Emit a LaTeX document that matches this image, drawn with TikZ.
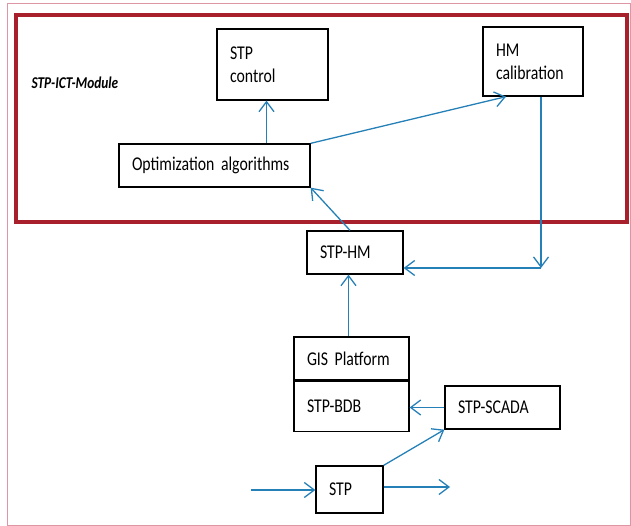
\documentclass[tikz,border=0pt]{standalone}
\usepackage{fontspec}
\setmainfont{Carlito}[FakeStretch=0.81]
\usepackage{tikz}
\usetikzlibrary{arrows.meta,positioning}
\definecolor{linkblue}{RGB}{38,128,184}
\definecolor{modred}{RGB}{168,32,44}
\definecolor{pagepink}{RGB}{222,150,165}
\newcommand{\boxfont}{\fontsize{19.5}{23}\selectfont\spaceskip=2.4pt\relax}

\begin{document}
\begin{tikzpicture}[
  x=1pt, y=-1pt,
  box/.style={draw, line width=1.3pt, fill=white, align=left,
              inner xsep=13pt, inner ysep=2pt, font=\boxfont},
  arrow/.style={-{Straight Barb[length=10pt,width=15pt]}, line width=1.3pt, linkblue},
  node distance=0pt
]
\useasboundingbox (0,0) rectangle (631,526);

% Frames
\draw[pagepink, line width=0.8pt] (7,3) rectangle (630,525);
\draw[modred, line width=4pt] (16,15) rectangle (627,222);
\node[anchor=west, font=\fontsize{16.5}{18}\selectfont\bfseries\itshape] (mod) at (28,83) {STP-ICT-Module};

% Module boxes
\node[box, text width=85pt, minimum height=71pt]  (ctrl) at (272.5,64.5) {STP\\control};
\node[box, text width=74pt, minimum height=69pt]  (cal)  at (533,61.5)   {HM\\calibration};
\node[box, text width=165pt, minimum height=43pt] (opt)  at (214.5,165.5) {Optimization algorithms};

% Lower boxes
\node[box, text width=70pt, minimum height=43pt] (hm)    at (355,252.5)   {STP-HM};
\node[box, text width=89pt, minimum height=43pt] (gis)   at (351.5,358.5) {GIS Platform};
\node[box, text width=89pt, minimum height=50pt, below=of gis] (bdb) {STP-BDB};
\node[box, text width=89pt, minimum height=43pt] (scada) at (502.5,407.5) {STP-SCADA};
\node[box, text width=41pt, minimum height=47pt] (stp)   at (349.5,489.5) {STP};

% Free ends
\coordinate (bend) at (541,268);
\coordinate (in)   at (251,490);
\coordinate (out)  at (450,487);

% Arrows
\draw[arrow] ([xshift=-6pt]ctrl.south |- opt.north) -- ([xshift=-6pt]ctrl.south);
\draw[arrow] (opt.north east) -- ([xshift=-27pt]cal.south);
\draw[arrow] ([xshift=8pt]cal.south) -- (bend);
\draw[arrow] (bend) -- (bend -| hm.east);
\draw[arrow] ([xshift=-5pt]hm.north) -- (opt.south east);
\draw[arrow] ([xshift=-3pt]gis.north) -- ([xshift=-3pt]gis.north |- hm.south);
\draw[arrow] (scada.west) -- (scada.west -| bdb.east);
\draw[arrow] (stp.north east) -- (scada.south west);
\draw[arrow] (in) -- (in -| stp.west);
\draw[arrow] (out -| stp.east) -- (out);
\end{tikzpicture}
\end{document}
